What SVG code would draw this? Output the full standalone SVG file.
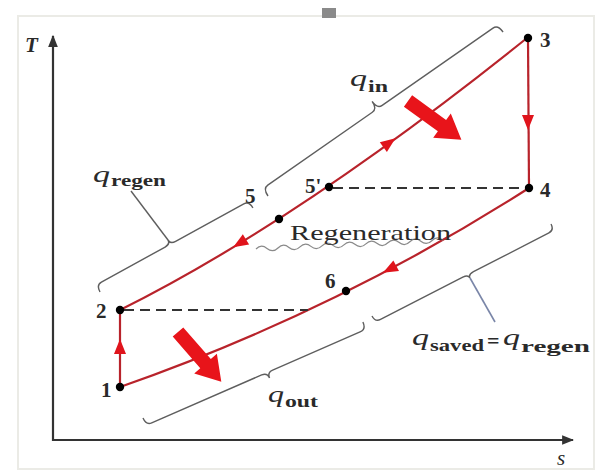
<svg xmlns="http://www.w3.org/2000/svg" width="600" height="473" viewBox="0 0 600 473">
<style>
.txt{font-family:"Liberation Serif","Times New Roman",serif;fill:#2a2a2a}
.num{font-size:21px;font-weight:bold}
.q{font-size:24px;font-style:italic}
.sub{font-size:16px;font-weight:bold}
.cyc{fill:none;stroke:#b8232b;stroke-width:2.2}
.ah{fill:#e0141c}
.big{fill:#e8141a}
.brace{fill:none;stroke:#5e5e5e;stroke-width:1.4}
.dash{stroke:#333;stroke-width:1.8;stroke-dasharray:10 6;fill:none}
.axis{stroke:#333;stroke-width:2.2;fill:none}
.dot{fill:#000}
</style>
<defs>
<path id="ah" d="M8,0 L-7,-6 L-7,6 Z"/>
<path id="bigarrow" d="M0,-7 L42,-7 L42,-15 L66,0 L42,15 L42,7 L0,7 Z"/>
<marker id="axhead" viewBox="0 0 10 10" refX="9" refY="5" markerWidth="5.5" markerHeight="5.5" orient="auto">
<path d="M0,1 L10,5 L0,9 Z" fill="#333"/>
</marker>
</defs>
<rect width="600" height="473" fill="#fff"/>
<rect x="18" y="16" width="576" height="453" fill="none" stroke="#ebebe6" stroke-width="2"/>
<rect x="322" y="8" width="14" height="10" fill="#8a8a8a"/>

<g id="axes">
<line class="axis" x1="53" y1="441" x2="53" y2="36" marker-end="url(#axhead)"/>
<line class="axis" x1="52" y1="440" x2="573" y2="440" marker-end="url(#axhead)"/>
<text class="txt" x="25" y="52" font-size="21" font-style="italic" font-weight="bold">T</text>
<text class="txt" x="557" y="465" font-size="21" font-style="italic">s</text>
</g>

<g id="connectors">
<path id="c23" class="cyc" d="M120,310 Q299,221 527,38"/>
<path id="c34" class="cyc" d="M528,38 L529,188"/>
<path id="c41" class="cyc" d="M529,188 Q335,312 120,387"/>
<path id="c12" class="cyc" d="M120,387 L120,310"/>
<line class="dash" x1="124" y1="310" x2="308" y2="310"/>
<line class="dash" x1="333" y1="188" x2="525" y2="188"/>
<use href="#ah" class="ah" transform="translate(528,122) rotate(90)"/>
<use href="#ah" class="ah" transform="translate(120,347) rotate(-90)"/>
<use href="#ah" class="ah" transform="translate(389,143) rotate(-36)"/>
<use href="#ah" class="ah" transform="translate(240,243) rotate(148.5)"/>
<use href="#ah" class="ah" transform="translate(390,269) rotate(152)"/>
<path d="M0,0 q5.5,-5 11,0 t11,0 t11,0 t11,0 t11,0 t11,0 t11,0 t11,0 t11,0 t11,0 t11,0 t11,0 t11,0 t11,0 t11,0 t11,0 t11,0" fill="none" stroke="#8a8a8a" stroke-width="1.2" transform="translate(256,249) rotate(-2.7)"/>
<use href="#bigarrow" class="big" transform="translate(408,101) rotate(36)"/>
<use href="#bigarrow" class="big" transform="translate(178,332) rotate(49)"/>
</g>

<g id="braces">
<path id="brace-qin" class="brace" transform="translate(268,196) rotate(-34.9)" d="M0,0 Q0,-9 6,-9 L133.5,-9 Q139.5,-9 139.5,-18 Q139.5,-9 145.5,-9 L280.6,-9 Q286.6,-9 286.6,0"/>
<path id="brace-qregen" class="brace" transform="translate(100,292) rotate(-28.8)" d="M0,0 Q0,-8 6,-8 L78.7,-8 Q84.7,-8 84.7,-13 Q84.7,-8 90.7,-8 L168.5,-8 Q174.5,-8 174.5,0"/>
<line class="brace" x1="168" y1="240" x2="131" y2="191"/>
<path id="brace-qout" class="brace" transform="translate(143,418) rotate(-23.6) scale(1,-1)" d="M0,0 Q0,-8 6,-8 L126,-8 Q132,-8 132,-14 Q132,-8 138,-8 L234,-8 Q240,-8 240,0"/>
<path id="brace-qsaved" class="brace" transform="translate(372,316) rotate(-27.2) scale(1,-1)" d="M0,0 Q0,-7 6,-7 L98.5,-7 Q104.5,-7 104.5,-11 Q104.5,-7 110.5,-7 L195.3,-7 Q201.3,-7 201.3,0"/>
<line x1="470" y1="278" x2="495" y2="322" stroke="#7a86a8" stroke-width="1.6"/>
</g>

<g id="point1"><circle class="dot" cx="120" cy="387" r="4.2"/><text class="txt num" x="101" y="397">1</text></g>
<g id="point2"><circle class="dot" cx="120" cy="310" r="4.2"/><text class="txt num" x="96" y="318">2</text></g>
<g id="point3"><circle class="dot" cx="528" cy="38" r="4.2"/><text class="txt num" x="540" y="47">3</text></g>
<g id="point4"><circle class="dot" cx="529" cy="188" r="4.2"/><text class="txt num" x="540" y="197">4</text></g>
<g id="point5"><circle class="dot" cx="279" cy="219" r="4.2"/><text class="txt num" x="245" y="203">5</text></g>
<g id="point5p"><circle class="dot" cx="329" cy="187" r="4.2"/><text class="txt num" x="305" y="193">5'</text></g>
<g id="point6"><circle class="dot" cx="346" cy="291" r="4.2"/><text class="txt num" x="325" y="288">6</text></g>

<g id="labels">
<text class="txt" x="290" y="240" font-size="22" textLength="161" lengthAdjust="spacingAndGlyphs">Regeneration</text>
<text class="txt q" x="350" y="86" textLength="17" lengthAdjust="spacingAndGlyphs">q</text><text class="txt sub" x="368" y="92" textLength="20" lengthAdjust="spacingAndGlyphs">in</text>
<text class="txt q" x="93" y="182" textLength="17" lengthAdjust="spacingAndGlyphs">q</text><text class="txt sub" x="111" y="186" textLength="55" lengthAdjust="spacingAndGlyphs">regen</text>
<text class="txt q" x="268" y="402" textLength="16" lengthAdjust="spacingAndGlyphs">q</text><text class="txt sub" x="285" y="407" textLength="33" lengthAdjust="spacingAndGlyphs">out</text>
<text class="txt q" x="412" y="345" textLength="17" lengthAdjust="spacingAndGlyphs">q</text><text class="txt sub" x="430" y="351" textLength="54" lengthAdjust="spacingAndGlyphs">saved</text>
<text class="txt" x="487" y="348" font-size="22" font-weight="bold">=</text>
<text class="txt q" x="503" y="345" textLength="17" lengthAdjust="spacingAndGlyphs">q</text><text class="txt sub" x="521" y="352" textLength="69" lengthAdjust="spacingAndGlyphs">regen</text>
</g>
</svg>
